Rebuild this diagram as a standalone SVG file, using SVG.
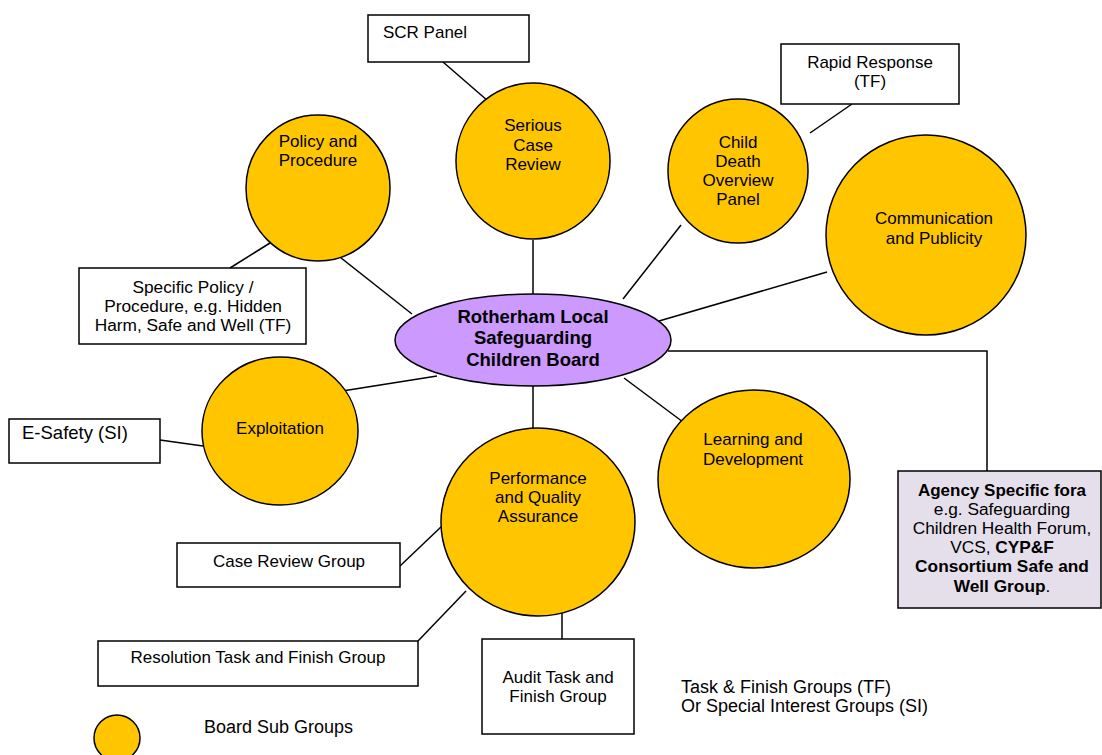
<svg xmlns="http://www.w3.org/2000/svg" width="1102" height="755" viewBox="0 0 1102 755">
<style>
text{font-family:"Liberation Sans",Arial,sans-serif;font-size:17px;fill:#000}
.c{text-anchor:middle}
.b{font-weight:bold}
.big{font-size:18.5px;font-weight:bold}
.ag{font-size:17.3px}
.lg{font-size:18px}
.sub{fill:#FFC600;stroke:#000;stroke-width:1.5}
.box{fill:#fff;stroke:#000;stroke-width:1.5}
.ln{stroke:#000;stroke-width:1.5;fill:none}
</style>
<rect width="1102" height="755" fill="#fff"/>
<g id="connectors">
<line class="ln" x1="443" y1="62" x2="488" y2="101"/>
<line class="ln" x1="852" y1="104" x2="810" y2="133"/>
<line class="ln" x1="230" y1="268" x2="278" y2="238"/>
<line class="ln" x1="336" y1="254" x2="412" y2="314"/>
<line class="ln" x1="533" y1="240" x2="533" y2="294"/>
<line class="ln" x1="681" y1="225" x2="623" y2="299"/>
<line class="ln" x1="827" y1="272" x2="659" y2="321"/>
<polyline class="ln" points="668,351 987,351 987,471"/>
<line class="ln" x1="336" y1="392" x2="437" y2="376"/>
<line class="ln" x1="160" y1="440" x2="203" y2="446"/>
<line class="ln" x1="533" y1="386" x2="533" y2="434"/>
<line class="ln" x1="624" y1="378" x2="683" y2="422"/>
<line class="ln" x1="400" y1="566" x2="442" y2="526"/>
<line class="ln" x1="418" y1="641" x2="466" y2="591"/>
<line class="ln" x1="562" y1="639" x2="562" y2="613"/>
</g>
<g id="policy">
<ellipse class="sub" cx="318" cy="188" rx="72" ry="73"/>
<text class="c" x="318" y="147">Policy and</text>
<text class="c" x="318" y="166">Procedure</text>
</g>
<g id="scr">
<ellipse class="sub" cx="533" cy="161" rx="77" ry="78"/>
<text class="c" x="533" y="131">Serious</text>
<text class="c" x="533" y="151">Case</text>
<text class="c" x="533" y="170">Review</text>
</g>
<g id="cdop">
<ellipse class="sub" cx="738" cy="171" rx="70" ry="72"/>
<text class="c" x="738" y="148">Child</text>
<text class="c" x="738" y="167">Death</text>
<text class="c" x="738" y="186">Overview</text>
<text class="c" x="738" y="205">Panel</text>
</g>
<g id="comms">
<ellipse class="sub" cx="926" cy="235" rx="100" ry="100"/>
<text class="c" x="934" y="224">Communication</text>
<text class="c" x="934" y="244">and Publicity</text>
</g>
<g id="exploitation">
<ellipse class="sub" cx="280" cy="431" rx="78" ry="74"/>
<text class="c" x="280" y="434">Exploitation</text>
</g>
<g id="performance">
<ellipse class="sub" cx="538" cy="522" rx="97" ry="94"/>
<text class="c" x="538" y="484">Performance</text>
<text class="c" x="538" y="503">and Quality</text>
<text class="c" x="538" y="522">Assurance</text>
</g>
<g id="learning">
<ellipse class="sub" cx="754" cy="479" rx="96" ry="89"/>
<text class="c" x="753" y="445">Learning and</text>
<text class="c" x="753" y="465">Development</text>
</g>
<g id="board">
<ellipse cx="533" cy="340" rx="138" ry="46" fill="#CC99FF" stroke="#000" stroke-width="1.5"/>
<text class="c big" x="533" y="323">Rotherham Local</text>
<text class="c big" x="533" y="344">Safeguarding</text>
<text class="c big" x="533" y="366">Children Board</text>
</g>
<g id="scrpanel">
<rect class="box" x="368" y="15" width="161" height="47"/>
<text x="383" y="38">SCR Panel</text>
</g>
<g id="rapid">
<rect class="box" x="781" y="44" width="178" height="60"/>
<text class="c" x="870" y="68">Rapid Response</text>
<text class="c" x="870" y="87">(TF)</text>
</g>
<g id="specific">
<rect class="box" x="79" y="268" width="227" height="76"/>
<text class="c ag" x="193" y="293">Specific Policy /</text>
<text class="c ag" x="193" y="312">Procedure, e.g. Hidden</text>
<text class="c ag" x="193" y="331">Harm, Safe and Well (TF)</text>
</g>
<g id="esafety">
<rect class="box" x="9" y="419" width="151" height="44"/>
<text x="22" y="439" style="font-size:18.5px">E-Safety (SI)</text>
</g>
<g id="casereview">
<rect class="box" x="177" y="543" width="223" height="44"/>
<text class="c" x="289" y="567">Case Review Group</text>
</g>
<g id="resolution">
<rect class="box" x="98" y="641" width="320" height="45"/>
<text class="c" x="258" y="663">Resolution Task and Finish Group</text>
</g>
<g id="audit">
<rect class="box" x="482" y="639" width="152" height="95"/>
<text class="c" x="558" y="683">Audit Task and</text>
<text class="c" x="558" y="702">Finish Group</text>
</g>
<g id="agency">
<rect x="898" y="471" width="203" height="137" fill="#E5DFEC" stroke="#000" stroke-width="1.5"/>
<text class="c b" x="1002" y="496">Agency Specific fora</text>
<text class="c ag" x="1002" y="515">e.g. Safeguarding</text>
<text class="c ag" x="1002" y="534">Children Health Forum,</text>
<text class="c ag" x="1002" y="553">VCS, <tspan class="b">CYP&amp;F</tspan></text>
<text class="c b ag" x="1002" y="572">Consortium Safe and</text>
<text class="c ag" x="1002" y="592"><tspan class="b">Well Group</tspan>.</text>
</g>
<g id="legend">
<circle class="sub" cx="117" cy="738" r="23"/>
<text class="lg" x="204" y="733">Board Sub Groups</text>
<text class="lg" x="681" y="693">Task &amp; Finish Groups (TF)</text>
<text class="lg" x="681" y="712">Or Special Interest Groups (SI)</text>
</g>
</svg>
